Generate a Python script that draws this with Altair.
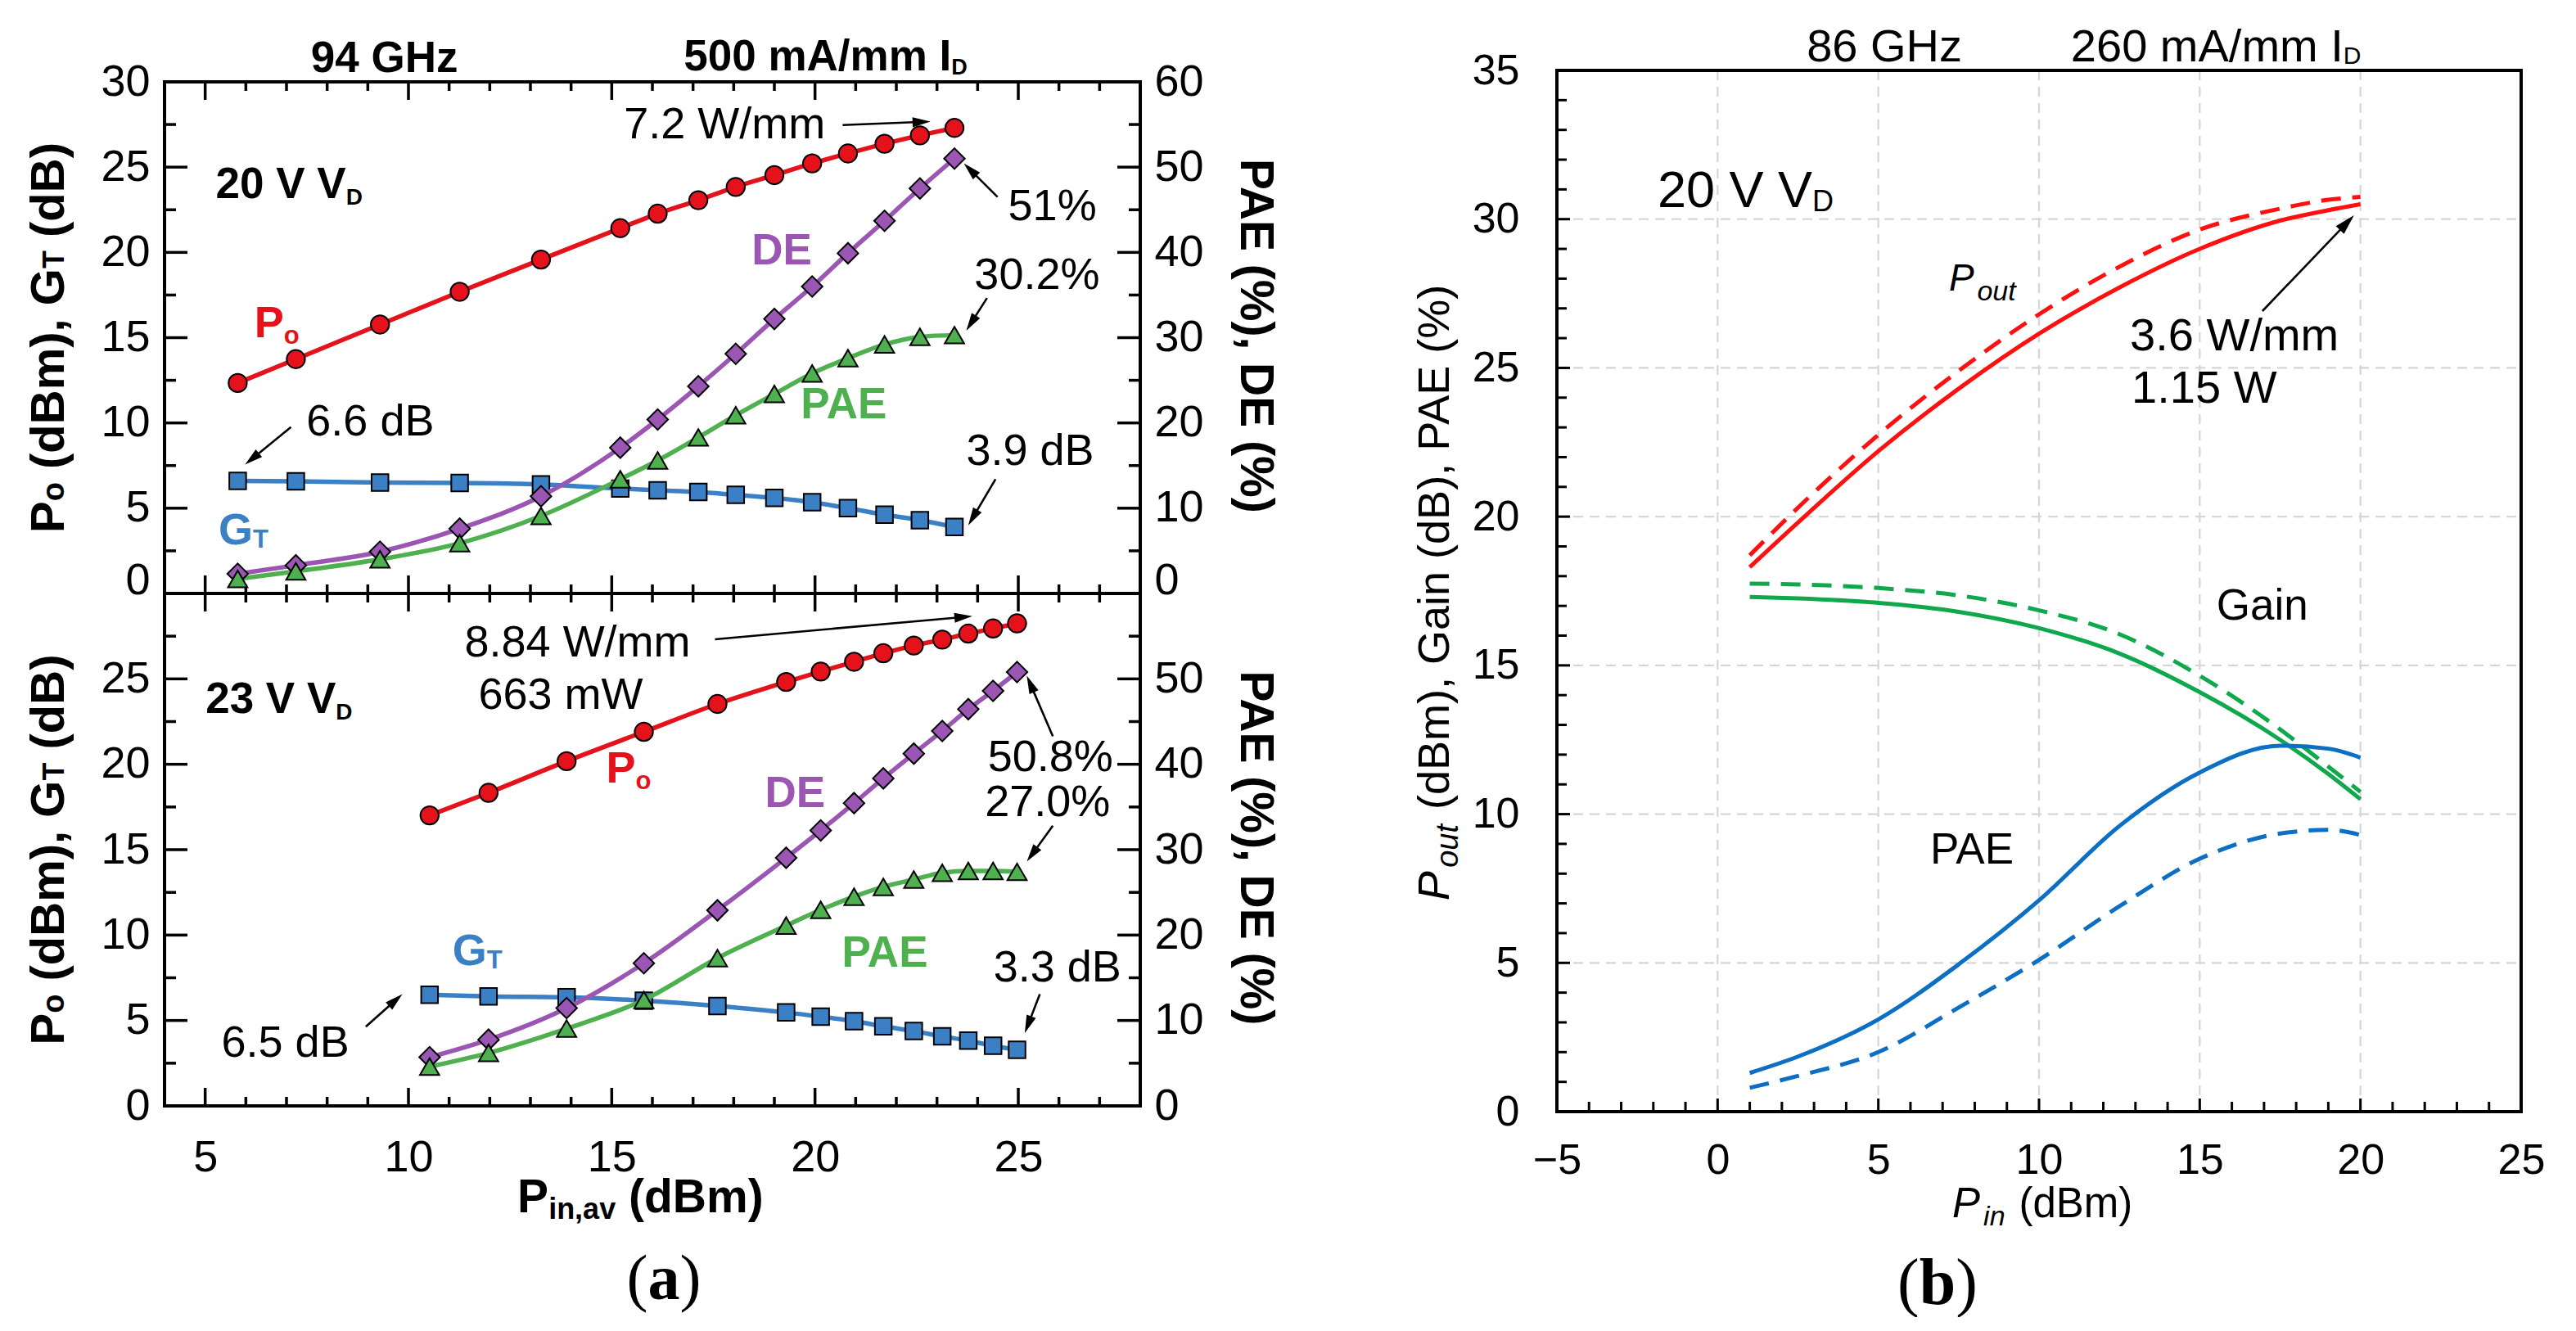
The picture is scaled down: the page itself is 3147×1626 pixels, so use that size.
import math

import altair as alt
import pandas as pd

# (a) upper panel: 94 GHz, 20 V drain bias
pin_20 = [5.80, 7.23, 9.30, 11.26, 13.26, 15.21, 16.13, 17.13, 18.05, 19.00, 19.93, 20.81, 21.71, 22.58, 23.43]
po_20 = [12.34, 13.74, 15.77, 17.69, 19.58, 21.42, 22.27, 23.06, 23.84, 24.53, 25.22, 25.80, 26.37, 26.86, 27.30]
gt_20 = [6.60, 6.58, 6.50, 6.48, 6.40, 6.15, 6.05, 5.95, 5.78, 5.60, 5.35, 5.00, 4.62, 4.30, 3.90]
de_20 = [2.3, 3.3, 4.9, 7.6, 11.4, 17.1, 20.4, 24.3, 28.1, 32.2, 36.0, 39.9, 43.7, 47.5, 51.0]
pae_20 = [1.7, 2.6, 4.0, 5.9, 9.1, 13.4, 15.6, 18.3, 20.9, 23.4, 25.8, 27.6, 29.2, 30.1, 30.3]

# (a) lower panel: 23 V drain bias
pin_23 = [10.52, 11.97, 13.89, 15.79, 17.60, 19.29, 20.14, 20.96, 21.68, 22.43, 23.13, 23.77, 24.38, 24.97]
po_23 = [17.01, 18.33, 20.18, 21.90, 23.53, 24.82, 25.43, 26.00, 26.50, 26.95, 27.30, 27.65, 27.95, 28.25]
gt_23 = [6.50, 6.41, 6.36, 6.16, 5.85, 5.47, 5.22, 4.96, 4.66, 4.38, 4.07, 3.82, 3.52, 3.28]
de_23 = [5.7, 7.75, 11.45, 16.7, 22.9, 29.05, 32.25, 35.45, 38.35, 41.25, 43.9, 46.45, 48.6, 50.8]
pae_23 = [4.6, 6.2, 9.05, 12.4, 17.3, 21.1, 22.95, 24.5, 25.65, 26.5, 27.3, 27.5, 27.5, 27.4]

# (b) 86 GHz, 20 V drain bias, solid and dashed traces
pin_b = [1, 2.5, 5, 7.5, 10, 12.5, 15, 17.5, 19, 20]
pout_solid = [18.3, 19.8, 22.2, 24.3, 26.15, 27.7, 29.0, 29.95, 30.3, 30.5]
pout_dashed = [18.7, 20.3, 22.75, 24.9, 26.8, 28.4, 29.65, 30.35, 30.65, 30.75]
gain_solid = [17.3, 17.25, 17.1, 16.8, 16.25, 15.4, 14.1, 12.5, 11.35, 10.5]
gain_dashed = [17.75, 17.72, 17.6, 17.35, 16.85, 16.05, 14.65, 12.85, 11.6, 10.75]
pae_solid = [1.3, 1.85, 3.1, 4.95, 7.1, 9.6, 11.4, 12.3, 12.2, 11.9]
pae_dashed = [0.8, 1.2, 2.0, 3.5, 5.1, 6.9, 8.5, 9.35, 9.47, 9.3]

# tick values
a_x_major = [5, 10, 15, 20, 25]
a_x_minor = [6, 7, 8, 9, 11, 12, 13, 14, 16, 17, 18, 19, 21, 22, 23, 24, 26, 27]
a_y_major = [0, 5, 10, 15, 20, 25, 30]
a_y_minor = [2.5, 7.5, 12.5, 17.5, 22.5, 27.5]
a_left_labels_top = [0, 5, 10, 15, 20, 25, 30]
a_left_labels_bottom = [0, 5, 10, 15, 20, 25]
a_right_labels_top = [0, 10, 20, 30, 40, 50, 60]
a_right_labels_bottom = [0, 10, 20, 30, 40, 50]
b_x_labels = [-5, 0, 5, 10, 15, 20, 25]
b_y_labels = [0, 5, 10, 15, 20, 25, 30, 35]
b_x_major = [0, 5, 10, 15, 20]
b_y_major = [5, 10, 15, 20, 25, 30]
b_x_minor = [v for v in range(-4, 25) if v % 5]
b_y_minor = [v for v in range(1, 35) if v % 5]

FONT = "Liberation Sans, Arial, Helvetica, sans-serif"
SERIF = "Liberation Serif, Times New Roman, serif"

RED_A, BLUE_A, PURPLE_A, GREEN_A = "#e5121b", "#3b80c4", "#9a56b2", "#4fb04f"
RED_B, GREEN_B, BLUE_B, GRID = "#ff1010", "#10a84c", "#0c6fc4", "#d6d6d6"

A_W, A_HT, A_HB = 1192, 625, 626
B_W, B_H = 1178, 1272
A_XDOM, A_LDOM, A_RDOM = [4, 28], [0, 30], [0, 60]
B_XDOM, B_YDOM = [-5, 25], [0, 35]

ONE = pd.DataFrame({"k": [0]})
HEAD = "M0,0L-0.55,2L0.55,2Z"

# Arial / Liberation Sans advance widths, 1/1000 em
REG = {" ": 278, ".": 278, ",": 278, "/": 278, "(": 333, ")": 333, "%": 889,
       "A": 667, "B": 667, "D": 722, "E": 667, "G": 778, "H": 722, "I": 278, "P": 667,
       "T": 611, "V": 667, "W": 944, "a": 556, "b": 556, "d": 556, "i": 222, "m": 833,
       "n": 556, "o": 556, "t": 278, "u": 556, "v": 500, "z": 500}
BOLD = {" ": 278, ".": 278, ",": 278, "/": 278, "(": 333, ")": 333, "%": 889,
        "A": 722, "B": 722, "D": 722, "E": 667, "G": 778, "H": 722, "I": 278, "P": 667,
        "T": 611, "V": 667, "W": 944, "a": 556, "b": 611, "d": 611, "i": 278, "m": 889,
        "n": 611, "o": 611, "t": 333, "u": 611, "v": 556, "z": 500}
CAPTION = {"(": 333, ")": 333, "a": 500, "b": 556}


def text_w(txt, size, bold=False, table=None):
    if table is None:
        table = BOLD if bold else REG
    return sum(table.get(ch, 556) for ch in txt) * size / 1000.0


def lin(dom):
    return alt.Scale(domain=dom, nice=False, zero=False)


def pos_x(field, dom, axis=None):
    return alt.X(f"{field}:Q", scale=lin(dom), axis=axis)


def pos_y(field, dom, axis=None):
    return alt.Y(f"{field}:Q", scale=lin(dom), axis=axis)


def lab_axis(orient, values, size, pad, baseline=None):
    kw = dict(orient=orient, values=values, labelFontSize=size, labelPadding=pad,
              labelFont=FONT, labelColor="black", ticks=False, tickSize=0, domain=False,
              grid=False, labelOverlap=False, labelFlush=False, title=None)
    if baseline is not None:
        kw["labelBaseline"] = baseline
    return alt.Axis(**kw)


def stack(layers):
    # every layer keeps its own axis, so hidden axes do not switch off the labelled one
    return alt.layer(*layers).resolve_axis(x="independent", y="independent")


def text_run(pieces, enc, data=None, color="black", angle=0, center=False, font=FONT, table=None):
    """Left-to-right run of text pieces (txt, size, bold, italic, dy) sharing one anchor."""
    data = ONE if data is None else data
    widths = [text_w(p[0], p[1], p[2], table) + (0.08 * p[1] if p[3] else 0) for p in pieces]
    off = -sum(widths) / 2 if center else 0.0
    out = []
    for (txt, size, bold, italic, dy), w in zip(pieces, widths):
        lead = len(txt) - len(txt.lstrip(" "))
        out.append(
            alt.Chart(data).mark_text(
                text=txt.lstrip(" "), font=font, fontSize=size,
                fontWeight="bold" if bold else "normal",
                fontStyle="italic" if italic else "normal",
                align="left", baseline="alphabetic",
                dx=off + text_w(" " * lead, size, bold, table), dy=dy, angle=angle, color=color,
            ).encode(**enc)
        )
        off += w
    return out


def note(x, y, pieces, xdom, ydom, color="black", center=False):
    df = pd.DataFrame({"x": [x], "y": [y]})
    return text_run(pieces, {"x": pos_x("x", xdom), "y": pos_y("y", ydom)}, df, color, center=center)


def note_px(x, ypx, pieces, xdom, color="black", center=False):
    df = pd.DataFrame({"x": [x]})
    return text_run(pieces, {"x": pos_x("x", xdom), "y": alt.value(ypx)}, df, color, center=center)


def arrow_layers(segs, xdom, ydom, ppx, ppy, size):
    cut = 0.6 * math.sqrt(size)
    rows = []
    for x0, y0, x1, y1 in segs:
        dxp, dyp = (x1 - x0) * ppx, (y1 - y0) * ppy
        L = math.hypot(dxp, dyp)
        rows.append(dict(x0=x0, y0=y0, x1=x1, y1=y1,
                         xs=x1 - cut * dxp / L / ppx, ys=y1 - cut * dyp / L / ppy,
                         ang=math.degrees(math.atan2(dxp, dyp)) % 360))
    df = pd.DataFrame(rows)
    shaft = alt.Chart(df).mark_rule(color="black", strokeWidth=2.6).encode(
        x=pos_x("x0", xdom), y=pos_y("y0", ydom), x2="xs:Q", y2="ys:Q")
    head = alt.Chart(df).mark_point(shape=HEAD, filled=True, fill="black", strokeWidth=0,
                                    opacity=1, size=size).encode(
        x=pos_x("x1", xdom), y=pos_y("y1", ydom), angle=alt.Angle("ang:Q", scale=None))
    return [shaft, head]


def frame(w, h):
    return alt.Chart(ONE).mark_rect(filled=False, stroke="black", strokeWidth=4).encode(
        x=alt.value(0), x2=alt.value(w), y=alt.value(0), y2=alt.value(h))


def anchor(px, py):
    return alt.Chart(ONE).mark_point(size=1, filled=True, opacity=0, strokeWidth=0).encode(
        x=alt.value(px), y=alt.value(py))


def yticks(vals, dom, x0, x1, w=3.5, axis=None):
    return alt.Chart(pd.DataFrame({"v": vals})).mark_rule(color="black", strokeWidth=w).encode(
        y=pos_y("v", dom, axis), x=alt.value(x0), x2=alt.value(x1))


def xticks(vals, dom, y0, y1, w=3.5, axis=None):
    return alt.Chart(pd.DataFrame({"v": vals})).mark_rule(color="black", strokeWidth=w).encode(
        x=pos_x("v", dom, axis), y=alt.value(y0), y2=alt.value(y1))


def curve(df, field, xdom, ydom, color, width=5, dash=None, axis=None):
    kw = dict(color=color, strokeWidth=width, interpolate="monotone")
    if dash:
        kw["strokeDash"] = dash
    return alt.Chart(df).mark_line(**kw).encode(x=pos_x("pin", xdom), y=pos_y(field, ydom, axis))


def markers(df, field, ydom, color, shape, size):
    return alt.Chart(df).mark_point(shape=shape, filled=True, fill=color, stroke="black",
                                    strokeWidth=2, size=size, opacity=1).encode(
        x=pos_x("pin", A_XDOM), y=pos_y(field, ydom))


def sub_label(x, y, main, sub, color, sub_dy):
    return note(x, y, [(main, 54, True, False, 0), (sub, 31, True, False, sub_dy)],
                A_XDOM, A_LDOM, color)


def panel_a(pin, po, gt, de, pae, h, upper):
    W = A_W
    left_df = pd.DataFrame({"pin": pin, "po": po, "gt": gt})
    right_df = pd.DataFrame({"pin": pin, "de": de, "pae": pae})
    zero_up = {"condition": {"test": "datum.value === 0", "value": "alphabetic"}, "value": "middle"}
    left_axis = lab_axis("left", a_left_labels_top if upper else a_left_labels_bottom, 54, 18,
                         zero_up if upper else None)
    right_axis = lab_axis("right", a_right_labels_top if upper else a_right_labels_bottom, 54, 17,
                          zero_up if upper else None)
    bottom_axis = None if upper else lab_axis("bottom", a_x_major, 54, 36)

    left = [
        frame(W, h),
        yticks(a_y_major, A_LDOM, 0, 28, axis=left_axis),
        yticks(a_y_minor, A_LDOM, 0, 14),
        yticks(a_y_major, A_LDOM, W, W - 28),
        yticks(a_y_minor, A_LDOM, W, W - 14),
        xticks(a_x_major, A_XDOM, 0, 22),
        xticks(a_x_minor, A_XDOM, 0, 11),
        xticks(a_x_major, A_XDOM, h, h - 22, axis=bottom_axis),
        xticks(a_x_minor, A_XDOM, h, h - 11),
        curve(left_df, "gt", A_XDOM, A_LDOM, BLUE_A, 5.5),
        curve(left_df, "po", A_XDOM, A_LDOM, RED_A, 5.5),
        markers(left_df, "gt", A_LDOM, BLUE_A, "square", 420),
        markers(left_df, "po", A_LDOM, RED_A, "circle", 500),
    ]
    right = [
        curve(right_df, "de", A_XDOM, A_RDOM, PURPLE_A, 5.5, axis=right_axis),
        curve(right_df, "pae", A_XDOM, A_RDOM, GREEN_A, 5.5),
        markers(right_df, "de", A_RDOM, PURPLE_A, "diamond", 640),
        markers(right_df, "pae", A_RDOM, GREEN_A, "triangle-up", 560),
    ]

    ppx, ppy = W / 24.0, h / 30.0
    notes = []
    if upper:
        notes += note_px(9.41, -12, [("94 GHz", 53, True, False, 0)], A_XDOM, center=True)
        notes += note_px(16.77, -14, [("500 mA/mm I", 53, True, False, 0), ("D", 27, True, False, 5)], A_XDOM)
        notes += note(5.26, 23.2, [("20 V V", 53, True, False, 0), ("D", 28, True, False, 8)], A_XDOM, A_LDOM)
        notes += sub_label(6.21, 15.04, "P", "o", RED_A, 8)
        notes += sub_label(5.33, 2.9, "G", "T", BLUE_A, 4)
        notes += note(18.44, 19.28, [("DE", 53, True, False, 0)], A_XDOM, A_LDOM, PURPLE_A)
        notes += note(19.65, 10.25, [("PAE", 53, True, False, 0)], A_XDOM, A_LDOM, GREEN_A)
        for x, y, t in [(7.49, 9.27, "6.6 dB"), (15.3, 26.69, "7.2 W/mm"), (24.75, 21.9, "51%"),
                        (23.92, 17.86, "30.2%"), (23.72, 7.56, "3.9 dB")]:
            notes += note(x, y, [(t, 54, False, False, 0)], A_XDOM, A_LDOM)
        notes += arrow_layers([(7.11, 9.76, 5.98, 7.56), (20.68, 27.47, 22.84, 27.67),
                               (24.49, 23.25, 23.66, 25.22), (24.23, 17.32, 23.72, 15.41),
                               (24.44, 6.7, 23.77, 4.0)], A_XDOM, A_LDOM, ppx, ppy, 480)
        notes += [anchor(-192, -91.5), anchor(1399.5, -91.5)]
    else:
        notes += note(5.01, 22.98, [("23 V V", 53, True, False, 0), ("D", 28, True, False, 8)], A_XDOM, A_LDOM)
        notes += sub_label(14.86, 18.93, "P", "o", RED_A, 8)
        notes += sub_label(11.08, 8.23, "G", "T", BLUE_A, 4)
        notes += note(18.77, 17.49, [("DE", 53, True, False, 0)], A_XDOM, A_LDOM, PURPLE_A)
        notes += note(20.66, 8.13, [("PAE", 53, True, False, 0)], A_XDOM, A_LDOM, GREEN_A)
        for x, y, t in [(11.38, 26.3, "8.84 W/mm"), (11.72, 23.23, "663 mW"), (5.4, 2.87, "6.5 dB"),
                        (24.25, 19.62, "50.8%"), (24.18, 16.98, "27.0%"), (24.39, 7.3, "3.3 dB")]:
            notes += note(x, y, [(t, 54, False, False, 0)], A_XDOM, A_LDOM)
        notes += arrow_layers([(17.54, 27.32, 23.87, 28.67), (8.95, 4.64, 9.85, 6.54),
                               (25.85, 21.64, 25.21, 25.18), (25.85, 16.4, 25.21, 14.3),
                               (25.53, 6.54, 25.16, 4.26)], A_XDOM, A_LDOM, ppx, ppy, 480)
        notes += note_px(12.68, 756, [("P", 57, True, False, 0), ("in,av", 36, True, False, 8),
                                      (" (dBm)", 57, True, False, 0)], A_XDOM)
        notes += text_run([("(", 78, False, False, 0), ("a", 78, True, False, 0), (")", 78, False, False, 0)],
                          {"x": alt.value(610), "y": alt.value(862)}, center=True, font=SERIF, table=CAPTION)
    # axis titles
    notes += text_run([("P", 58, True, False, 0), ("o", 38, True, False, 0), (" (dBm), G", 58, True, False, 0),
                       ("T", 36, True, False, 0), (" (dB)", 58, True, False, 0)],
                      {"x": alt.value(-123), "y": alt.value(h / 2)}, angle=270, center=True)
    notes += text_run([("PAE (%), DE (%)", 57, True, False, 0)],
                      {"x": alt.value(W + 122.5), "y": alt.value(h / 2)}, angle=90, center=True)

    return (
        stack([stack(left), stack(right), stack(notes)])
        .resolve_scale(y="independent")
        .properties(width=W, height=h)
    )


def panel_b():
    df = pd.DataFrame({"pin": pin_b, "pout_s": pout_solid, "pout_d": pout_dashed,
                       "gain_s": gain_solid, "gain_d": gain_dashed,
                       "pae_s": pae_solid, "pae_d": pae_dashed})
    dash = [24, 14]
    layers = [
        alt.Chart(pd.DataFrame({"v": b_x_major})).mark_rule(color=GRID, strokeWidth=2.2, strokeDash=[12, 8])
        .encode(x=pos_x("v", B_XDOM), y=alt.value(0), y2=alt.value(B_H)),
        alt.Chart(pd.DataFrame({"v": b_y_major})).mark_rule(color=GRID, strokeWidth=2.2, strokeDash=[12, 8])
        .encode(y=pos_y("v", B_YDOM), x=alt.value(0), x2=alt.value(B_W)),
        frame(B_W, B_H),
        yticks(b_y_labels, B_YDOM, 0, 16, 3, axis=lab_axis("left", b_y_labels, 52, 46)),
        yticks(b_y_minor, B_YDOM, 0, 12, 3),
        xticks(b_x_labels, B_XDOM, B_H, B_H - 16, 3, axis=lab_axis("bottom", b_x_labels, 52, 34)),
        xticks(b_x_minor, B_XDOM, B_H, B_H - 12, 3),
        curve(df, "pout_d", B_XDOM, B_YDOM, RED_B, dash=dash),
        curve(df, "pout_s", B_XDOM, B_YDOM, RED_B),
        curve(df, "gain_d", B_XDOM, B_YDOM, GREEN_B, dash=dash),
        curve(df, "gain_s", B_XDOM, B_YDOM, GREEN_B),
        curve(df, "pae_d", B_XDOM, B_YDOM, BLUE_B, dash=dash),
        curve(df, "pae_s", B_XDOM, B_YDOM, BLUE_B),
    ]
    layers += note_px(5.19, -11, [("86 GHz", 56, False, False, 0)], B_XDOM, center=True)
    layers += note_px(10.99, -11, [("260 mA/mm I", 56, False, False, 0), ("D", 30, False, False, 3)], B_XDOM)
    layers += note(-1.87, 30.4, [("20 V V", 63, False, False, 0), ("D", 36, False, False, 5)], B_XDOM, B_YDOM)
    layers += note(7.2, 27.6, [("P", 46, False, True, 0), ("out", 34, False, True, 12)], B_XDOM, B_YDOM)
    layers += note(12.83, 25.58, [("3.6 W/mm", 56, False, False, 0)], B_XDOM, B_YDOM)
    layers += note(12.88, 23.82, [("1.15 W", 56, False, False, 0)], B_XDOM, B_YDOM)
    layers += note(15.52, 16.54, [("Gain", 53, False, False, 0)], B_XDOM, B_YDOM)
    layers += note(6.61, 8.35, [("PAE", 53, False, False, 0)], B_XDOM, B_YDOM)
    layers += arrow_layers([(16.95, 26.91, 19.8, 30.13)], B_XDOM, B_YDOM, B_W / 30.0, B_H / 35.0, 620)
    layers += note_px(7.3, B_H + 129, [("P", 51, False, True, 0), ("in", 34, False, True, 10),
                                       (" (dBm)", 51, False, False, 0)], B_XDOM)
    layers += text_run([("P", 54, False, True, 0), ("out", 38, False, True, 11),
                        (" (dBm), Gain (dB), PAE (%)", 54, False, False, 0)],
                       {"x": alt.value(-132), "y": alt.value(B_H / 2)}, angle=270, center=True)
    layers += text_run([("(", 80, False, False, 0), ("b", 80, True, False, 0), (")", 80, False, False, 0)],
                       {"x": alt.value(465), "y": alt.value(1507)}, center=True, font=SERIF, table=CAPTION)
    layers.append(anchor(-300.5, -77))
    return stack(layers).properties(width=B_W, height=B_H)


# empty strip that lowers panel (a) against panel (b)
spacer = (
    alt.Chart(ONE).mark_point(size=1, opacity=0, strokeWidth=0)
    .encode(x=alt.value(0), y=alt.value(0))
    .properties(width=A_W, height=14)
)
top = panel_a(pin_20, po_20, gt_20, de_20, pae_20, A_HT, True)
bottom = panel_a(pin_23, po_23, gt_23, de_23, pae_23, A_HB, False)
left_fig = alt.vconcat(spacer, top, bottom, spacing=0, bounds="flush")

chart = (
    alt.hconcat(left_fig, panel_b(), spacing=0)
    .properties(padding=0)
    .configure_view(strokeWidth=0)
)

chart.save("out.html", embed_options={"renderer": "svg", "actions": False})
